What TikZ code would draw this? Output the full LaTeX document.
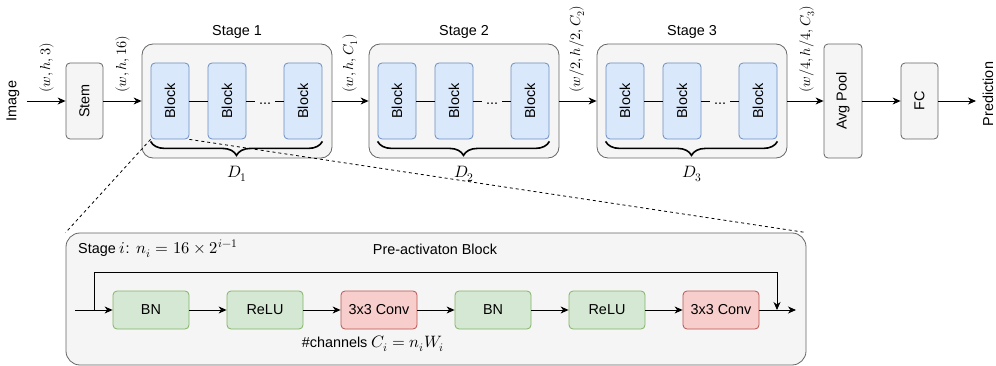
\documentclass[tikz,border=0pt]{standalone}
\usepackage{fontspec}
\usepackage{unicode-math}
\setmathfont{Latin Modern Math}
\setsansfont{Liberation Sans}
\usetikzlibrary{arrows.meta,decorations.pathreplacing}
\definecolor{grayfill}{HTML}{F5F5F5}
\definecolor{grayline}{HTML}{666666}
\definecolor{bluefill}{HTML}{DAE8FC}
\definecolor{blueline}{HTML}{6C8EBF}
\definecolor{greenfill}{HTML}{D5E8D4}
\definecolor{greenline}{HTML}{82B366}
\definecolor{redfill}{HTML}{F8CECC}
\definecolor{redline}{HTML}{B85450}
\newcommand{\mathlbl}[1]{{\fontsize{16.5}{19}\selectfont$#1$}}
\tikzset{
  every node/.style={font=\sffamily\fontsize{14.4}{17}\selectfont},
  arr/.style={-{Stealth[length=8pt,width=7pt,inset=2.5pt]}, line width=0.9pt},
  graybox/.style={draw=grayline, fill=grayfill, rounded corners=4pt, line width=0.8pt},
  stagebox/.style={draw=grayline, fill=grayfill, rounded corners=11pt, line width=0.8pt,
    minimum width=190, minimum height=114},
  blk/.style={draw=blueline, fill=bluefill, rounded corners=4pt, line width=0.8pt,
    minimum width=38, minimum height=76},
  greenbox/.style={draw=greenline, fill=greenfill, rounded corners=4pt, line width=0.8pt,
    minimum width=76, minimum height=38},
  redbox/.style={draw=redline, fill=redfill, rounded corners=4pt, line width=0.8pt,
    minimum width=76, minimum height=38},
  dim/.style={rotate=90, anchor=west, inner sep=0pt},
  brace/.style={decorate, decoration={brace, mirror, amplitude=14pt}, line width=1.6pt},
  dots/.style={fill=grayfill, inner xsep=4pt, inner ysep=0pt, text height=8pt, text depth=0pt},
  zoomline/.style={dashed, dash pattern=on 3pt off 3pt, line width=0.8pt}
}
\begin{document}
\begin{tikzpicture}[x=1pt,y=-1pt]
  \useasboundingbox (0,0) rectangle (996,366);
  % Entrada e stem
  \node[rotate=90] (image) at (13,101) {Image};
  \node[graybox, minimum width=37, minimum height=76] (stem) at (84.5,101) {\rotatebox{90}{Stem}};
  % Estagios
  \node[stagebox] (st1) at (237,101) {};
  \node[stagebox] (st2) at (464,101) {};
  \node[stagebox] (st3) at (692,101) {};
  \node (t1) at (237,32) {Stage 1};
  \node (t2) at (464,32) {Stage 2};
  \node (t3) at (692,32) {Stage 3};
  % Blocos do estagio 1
  \node[blk] (b11) at (170,101) {\rotatebox{90}{Block}};
  \node[blk] (b12) at (227,101) {\rotatebox{90}{Block}};
  \node[blk] (b13) at (303,101) {\rotatebox{90}{Block}};
  \draw[line width=0.9pt] (b11) -- (b12);
  \draw[line width=0.9pt] (b12) -- (b13) node[midway, dots] {...};
  % Blocos do estagio 2
  \node[blk] (b21) at (397,101) {\rotatebox{90}{Block}};
  \node[blk] (b22) at (454,101) {\rotatebox{90}{Block}};
  \node[blk] (b23) at (530,101) {\rotatebox{90}{Block}};
  \draw[line width=0.9pt] (b21) -- (b22);
  \draw[line width=0.9pt] (b22) -- (b23) node[midway, dots] {...};
  % Blocos do estagio 3
  \node[blk] (b31) at (625,101) {\rotatebox{90}{Block}};
  \node[blk] (b32) at (682,101) {\rotatebox{90}{Block}};
  \node[blk] (b33) at (758,101) {\rotatebox{90}{Block}};
  \draw[line width=0.9pt] (b31) -- (b32);
  \draw[line width=0.9pt] (b32) -- (b33) node[midway, dots] {...};
  % Chaves e profundidades
  \draw[brace] ([yshift=-2pt]b11.south west) -- ([yshift=-2pt]b13.south east);
  \draw[brace] ([yshift=-2pt]b21.south west) -- ([yshift=-2pt]b23.south east);
  \draw[brace] ([yshift=-2pt]b31.south west) -- ([yshift=-2pt]b33.south east);
  \node (dd1) at (237,174) {\mathlbl{D_1}};
  \node (dd2) at (464,174) {\mathlbl{D_2}};
  \node (dd3) at (692,174) {\mathlbl{D_3}};
  % Saida
  \node[graybox, minimum width=38, minimum height=114] (pool) at (843,101) {\rotatebox{90}{Avg Pool}};
  \node[graybox, minimum width=37, minimum height=76] (fc) at (919.5,101) {\rotatebox{90}{FC}};
  \node[rotate=90] (pred) at (988,94) {Prediction};
  \coordinate (predin) at (976,101);
  % Setas principais
  \draw[arr, shorten <=4pt] (image) -- (stem);
  \draw[arr] (stem) -- (st1);
  \draw[arr] (st1) -- (st2);
  \draw[arr] (st2) -- (st3);
  \draw[arr] (st3) -- (pool);
  \draw[arr] (pool) -- (fc);
  \draw[arr] (fc) -- (predin);
  % Dimensoes
  \node[dim] (s0) at (47,93) {$(w,h,3)$};
  \node[dim] (s1) at (123,93) {$(w,h,16)$};
  \node[dim] (s2) at (350,93) {$(w,h,C_1)$};
  \node[dim] (s3) at (577,93) {$(w/2,h/2,C_2)$};
  \node[dim] (s4) at (807,93) {$(w/4,h/4,C_3)$};
  % Detalhe do bloco
  \node[graybox, rounded corners=14pt, minimum width=740, minimum height=132] (pre) at (436,299) {};
  \draw[zoomline] (b11.south west) -- (pre.north west);
  \draw[zoomline] (b11.south east) -- (pre.north east);
  \node[anchor=west, inner sep=0pt] (si) at (78,249) {Stage \mathlbl{i}:\enspace\mathlbl{n_i = 16\times 2^{i-1}}};
  \node (pt) at (435,249) {Pre-activaton Block};
  \node[greenbox] (bn1) at (151,310) {BN};
  \node[greenbox] (re1) at (265,310) {ReLU};
  \node[redbox] (cv1) at (379,310) {3x3 Conv};
  \node[greenbox] (bn2) at (493,310) {BN};
  \node[greenbox] (re2) at (607,310) {ReLU};
  \node[redbox] (cv2) at (721,310) {3x3 Conv};
  \node (ch) at (373,344) {\#channels \mathlbl{C_i = n_iW_i}};
  \coordinate (in) at (75,310);
  \coordinate (split) at (94,310);
  \coordinate (join) at (777,310);
  \coordinate (out) at (796,310);
  \draw[arr] (in) -- (bn1);
  \draw[arr] (bn1) -- (re1);
  \draw[arr] (re1) -- (cv1);
  \draw[arr] (cv1) -- (bn2);
  \draw[arr] (bn2) -- (re2);
  \draw[arr] (re2) -- (cv2);
  \draw[arr] (cv2) -- (out);
  % Conexao residual
  \draw[arr] (split) -- ++(0,-38) -| (join);
\end{tikzpicture}
\end{document}
